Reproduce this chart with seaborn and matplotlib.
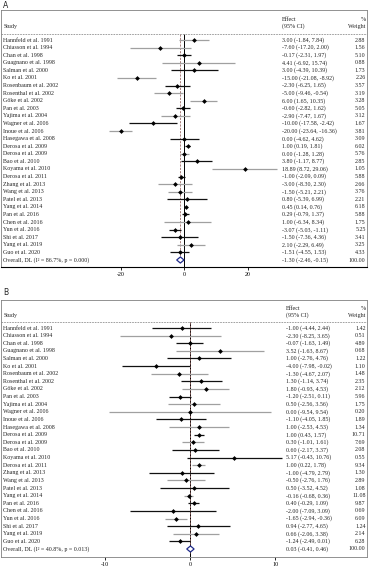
import numpy as np
import pandas as pd
import seaborn as sns
import matplotlib.pyplot as plt
from matplotlib.patches import Polygon

# Study labels (same for both panels)
studies = [
    "Hannfeld et al. 1991", "Chiasson et al. 1994", "Chan et al. 1998", "Guagnano et al. 1998",
    "Salman et al. 2000", "Ko et al. 2001", "Rosenbaum et al. 2002", "Rosenthal et al. 2002",
    "Göke et al. 2002", "Pan et al. 2003", "Yajima et al. 2004", "Wagner et al. 2006",
    "Inoue et al. 2006", "Hasegawa et al. 2008", "Derosa et al. 2009", "Derosa et al. 2009",
    "Bao et al. 2010", "Koyama et al. 2010", "Derosa et al. 2011", "Zhang et al. 2013",
    "Wang et al. 2013", "Patel et al. 2013", "Yang et al. 2014", "Pan et al. 2016",
    "Chen et al. 2016", "Yun et al. 2016", "Shi et al. 2017", "Yang et al. 2019", "Guo et al. 2020",
]

# Panel A
a_est = [3.00, -7.60, -0.17, 4.41, 3.00, -15.00, -2.30, -5.00, 6.00, -0.60, -2.90, -10.00, -20.00,
         0.00, 1.00, 0.00, 3.80, 18.89, -1.00, -3.00, -1.50, 0.80, 0.45, 0.29, 1.00, -3.07, -1.50,
         2.10, -1.51]
a_lo = [-1.84, -17.20, -2.31, -6.92, -4.39, -21.08, -6.25, -9.46, 1.65, -2.82, -7.47, -17.58, -23.64,
        -4.62, 0.19, -1.28, -1.17, 8.72, -2.09, -8.30, -5.21, -5.39, 0.14, -0.79, -6.34, -5.03, -7.36,
        -2.29, -4.55]
a_hi = [7.84, 2.00, 1.97, 15.74, 10.39, -8.92, 1.65, -0.54, 10.35, 1.62, 1.67, -2.42, -16.36,
        4.62, 1.81, 1.28, 8.77, 29.06, 0.09, 2.30, 2.21, 6.99, 0.76, 1.37, 8.34, -1.11, 4.36,
        6.49, 1.53]
a_wt = [2.88, 1.56, 5.10, 0.88, 1.73, 2.26, 3.57, 3.19, 3.28, 5.05, 3.12, 1.67, 3.81, 3.09, 6.02,
        5.76, 2.85, 1.05, 5.88, 2.66, 3.76, 2.21, 6.18, 5.88, 1.75, 5.25, 3.41, 3.25, 4.33]
a_overall = [-1.30, -2.46, -0.15]
a_het = "Overall, DL (I² = 86.7%, p = 0.000)"
a_ticks = [-20, 0, 20]

# Panel B
b_est = [-1.00, -2.30, -0.07, 3.52, 1.00, -4.00, -1.30, 1.30, 1.80, -1.20, 0.50, 0.00, -1.10,
         1.00, 1.00, 0.30, 0.60, 5.17, 1.00, -1.00, -0.50, 0.50, -0.16, 0.40, -2.00, -1.65, 0.94,
         0.66, -1.24]
b_lo = [-4.44, -8.25, -1.63, -1.63, -2.76, -7.98, -4.67, -1.14, -0.93, -2.51, -2.56, -9.54, -4.05,
        -2.53, 0.43, -1.01, -2.17, -0.43, 0.22, -4.79, -2.76, -3.52, -0.68, -0.29, -7.09, -2.94, -2.77,
        -2.06, -2.49]
b_hi = [2.44, 3.65, 1.49, 8.67, 4.76, -0.02, 2.07, 3.74, 4.53, 0.11, 3.56, 9.54, 1.85,
        4.53, 1.57, 1.61, 3.37, 10.76, 1.78, 2.79, 1.76, 4.52, 0.36, 1.09, 3.09, -0.36, 4.65,
        3.38, 0.01]
b_wt = [1.42, 0.51, 4.89, 0.68, 1.22, 1.10, 1.48, 2.35, 2.12, 5.96, 1.75, 0.20, 1.89, 1.34, 10.71,
        7.69, 2.08, 0.55, 9.34, 1.30, 2.89, 1.08, 11.08, 9.87, 0.69, 6.09, 1.24, 2.14, 6.28]
b_overall = [0.03, -0.41, 0.46]
b_het = "Overall, DL (I² = 40.8%, p = 0.013)"
b_ticks = [-10, 0, 10]

# CI line shading as it appears in the figure (k = black, g = grey)
a_shade = list("ggkgkgkggkgkgkkgkgkggkkkgkkgk")
b_shade = list("kgkgkkgkgkggkgkgkkgkgkgkkgkgk")

sns.set_theme(style="white")
plt.rcParams["font.family"] = ["Liberation Serif", "DejaVu Serif"]
FS = 4.3

W, H = 369, 569
fig = plt.figure(figsize=(W / 100, H / 100), dpi=100)


def forest(top_px, bot_px, row0_px, step_px, zero_px, ppu, est, lo, hi, wt, shade,
           overall, het, ticks, eff_px, solid_bottom):
    ax = fig.add_axes([1 / W, 1 - bot_px / H, 366 / W, (bot_px - top_px) / H])
    n = len(est)
    df = pd.DataFrame({"study": studies, "est": est, "lo": lo, "hi": hi, "wt": wt,
                       "row": np.arange(n)})
    colors = ["#111111" if s == "k" else "#a0a0a0" for s in shade]
    ax.hlines(df["row"], df["lo"], df["hi"], colors=colors, lw=0.9, zorder=2)
    sns.scatterplot(data=df, x="est", y="row", marker="D", s=6, color="black",
                    linewidth=0, ax=ax, zorder=3)

    orow = n
    hdr = (top_px + 0.55 * (row0_px - top_px) - row0_px) / step_px
    line_y = -0.8
    ax.axhline(line_y, color="#909090", lw=0.6, ls=(0, (2, 1.2)))
    ax.vlines(0, line_y, orow + 1.2, color="black", lw=0.7, zorder=1)
    ax.vlines(overall[0], line_y, orow + 0.5, color="#9a6a66", lw=0.6,
              linestyles=(0, (2.5, 1.5)), zorder=1)
    diamond = Polygon([(overall[1], orow), (overall[0], orow - 0.4),
                       (overall[2], orow), (overall[0], orow + 0.4)],
                      closed=True, facecolor="white", edgecolor="#1f2a8a", lw=0.9, zorder=4)
    ax.add_patch(diamond)

    trans = ax.get_yaxis_transform()
    xe = (eff_px - 1) / 366
    for r, row in df.iterrows():
        ax.text(0.006, r, row["study"], transform=trans, fontsize=FS, va="center")
        ax.text(xe, r, f"{row['est']:.2f} ({row['lo']:.2f}, {row['hi']:.2f})",
                transform=trans, fontsize=FS, va="center")
        ax.text(0.996, r, f"{row['wt']:.2f}", transform=trans, fontsize=FS,
                va="center", ha="right")
    ax.text(0.006, orow, het, transform=trans, fontsize=FS, va="center")
    ax.text(xe, orow, f"{overall[0]:.2f} ({overall[1]:.2f}, {overall[2]:.2f})",
            transform=trans, fontsize=FS, va="center")
    ax.text(0.996, orow, "100.00", transform=trans, fontsize=FS, va="center", ha="right")

    ax.text(0.006, hdr, "Study", transform=trans, fontsize=FS, va="center")
    ax.text(xe, hdr - 0.95, "Effect", transform=trans, fontsize=FS, va="center")
    ax.text(xe, hdr, "(95% CI)", transform=trans, fontsize=FS, va="center")
    ax.text(0.996, hdr - 0.95, "%", transform=trans, fontsize=FS, va="center", ha="right")
    ax.text(0.996, hdr, "Weight", transform=trans, fontsize=FS, va="center", ha="right")

    ax.set_xlim((1 - zero_px) / ppu, (367 - zero_px) / ppu)
    ax.set_ylim((bot_px - row0_px) / step_px, (top_px - row0_px) / step_px)
    ax.set_xticks(ticks)
    ax.set_xticklabels([str(t) for t in ticks])
    ax.set_yticks([])
    ax.set_xlabel("")
    ax.set_ylabel("")
    ax.tick_params(axis="x", bottom=True, direction="out", length=2.2, width=0.6,
                   pad=1.5, labelsize=FS, colors="black")
    for side in ["top", "left", "right"]:
        ax.spines[side].set_linestyle((0, (1, 1)))
        ax.spines[side].set_color("#808080")
        ax.spines[side].set_linewidth(0.6)
    if solid_bottom:
        ax.spines["bottom"].set_color("black")
        ax.spines["bottom"].set_linewidth(0.8)
    else:
        ax.spines["bottom"].set_linestyle((0, (1, 1)))
        ax.spines["bottom"].set_color("#808080")
        ax.spines["bottom"].set_linewidth(0.6)
    return ax


forest(10, 267, 40, (260 - 40) / 29, 184.5, 3.18, a_est, a_lo, a_hi, a_wt, a_shade,
       a_overall, a_het, a_ticks, 282, True)
forest(300, 557, 328, (549 - 328) / 29, 190.2, 8.5, b_est, b_lo, b_hi, b_wt, b_shade,
       b_overall, b_het, b_ticks, 286, False)

fig.text(3 / W, 1 - 5 / H, "A", fontsize=5.5, va="center", family="DejaVu Sans")
fig.text(3 / W, 1 - 293 / H, "B", fontsize=5.5, va="center", family="DejaVu Sans")

fig.savefig("out.png", dpi=100)
